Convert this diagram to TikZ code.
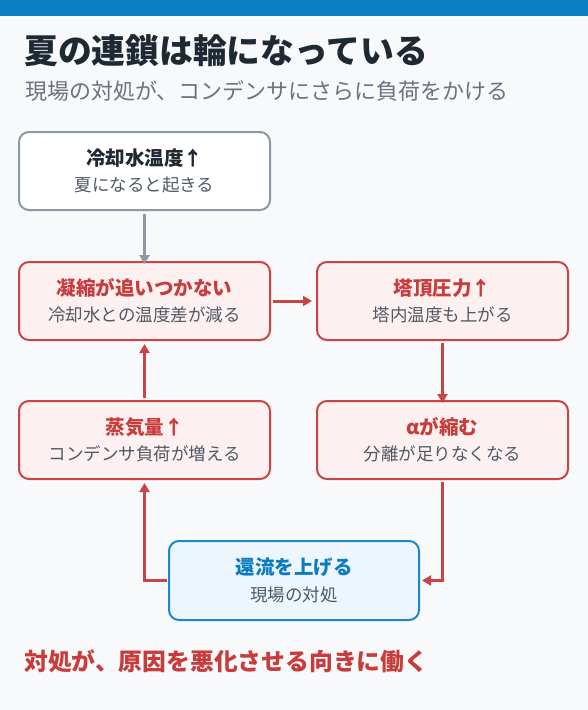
\documentclass[tikz,border=0pt]{standalone}
\usepackage{fontspec}
\setmainfont{Noto Sans CJK JP}
\usetikzlibrary{arrows.meta}
\definecolor{bg}{HTML}{F7F9FB}
\definecolor{topbar}{HTML}{0A7FC6}
\definecolor{titlec}{HTML}{1F2933}
\definecolor{subc}{HTML}{6B7380}
\definecolor{boxtext}{HTML}{4F5965}
\definecolor{grayb}{HTML}{8E99A5}
\definecolor{redb}{HTML}{C94444}
\definecolor{redf}{HTML}{FDF0F0}
\definecolor{redt}{HTML}{C83C3C}
\definecolor{blueb}{HTML}{1B88CA}
\definecolor{bluef}{HTML}{EDF6FD}
\definecolor{bluet}{HTML}{0B7CC1}
\tikzset{
  box/.style={draw, rounded corners=10pt, line width=2pt, minimum width=251pt, minimum height=78pt, align=center, inner sep=0pt},
  graybox/.style={box, draw=grayb, fill=white},
  redbox/.style={box, draw=redb, fill=redf},
  bluebox/.style={box, draw=blueb, fill=bluef},
  redarrow/.style={draw=redb, line width=3pt, -{Triangle[length=9pt,width=10pt]}},
  grayarrow/.style={draw=grayb, line width=2.5pt, -{Triangle[length=9pt,width=10pt]}},
}
\newcommand{\boxtxt}[3]{{\fontsize{19.5}{22}\selectfont\bfseries\color{#1}#2}\\[8.5pt]{\fontsize{17.5}{22}\selectfont\color{boxtext}#3}}
\begin{document}
\begin{tikzpicture}[x=1pt,y=-1pt]
\fill[bg] (0,0) rectangle (588,710);
\fill[topbar] (0,0) rectangle (588,16);
\useasboundingbox (0,0) rectangle (588,710);
\node[anchor=west, text=titlec, font=\fontsize{33.8}{36}\selectfont\bfseries, inner sep=0pt] (title) at (24,51) {夏の連鎖は輪になっている};
\node[anchor=west, text=subc, font=\fontsize{22}{24}\selectfont, inner sep=0pt] (subtitle) at (25,91) {現場の対処が、コンデンサにさらに負荷をかける};
\node[graybox] (b1) at (144.5,171) {\boxtxt{titlec}{冷却水温度↑}{夏になると起きる}};
\node[redbox] (b2) at (144.5,301) {\boxtxt{redt}{凝縮が追いつかない}{冷却水との温度差が減る}};
\node[redbox] (b3) at (442.5,301) {\boxtxt{redt}{塔頂圧力↑}{塔内温度も上がる}};
\node[redbox] (b4) at (144.5,440) {\boxtxt{redt}{蒸気量↑}{コンデンサ負荷が増える}};
\node[redbox] (b5) at (442.5,440) {\boxtxt{redt}{αが縮む}{分離が足りなくなる}};
\node[bluebox, minimum width=250pt, minimum height=79pt] (b6) at (294,580.5) {\boxtxt{bluet}{還流を上げる}{現場の対処}};
\draw[grayarrow] (b1.south) ++(0,3) -- ([yshift=-3pt]b2.north);
\draw[redarrow] ([xshift=2pt]b2.east) -- ([xshift=-4pt]b3.west);
\draw[redarrow] ([yshift=-2pt]b3.south) -- ([yshift=-3pt]b5.north);
\draw[redarrow] ([yshift=-2pt]b5.south) |- ([xshift=2pt]b6.east);
\draw[redarrow] ([xshift=-1pt]b6.west) -| ([yshift=-3pt]b4.south);
\draw[redarrow] ([yshift=2pt]b4.north) -- ([yshift=-3pt]b2.south);
\node[anchor=west, text=redt, font=\fontsize{23.8}{26}\selectfont\bfseries, inner sep=0pt] (note) at (24,661) {対処が、原因を悪化させる向きに働く};
\end{tikzpicture}
\end{document}
